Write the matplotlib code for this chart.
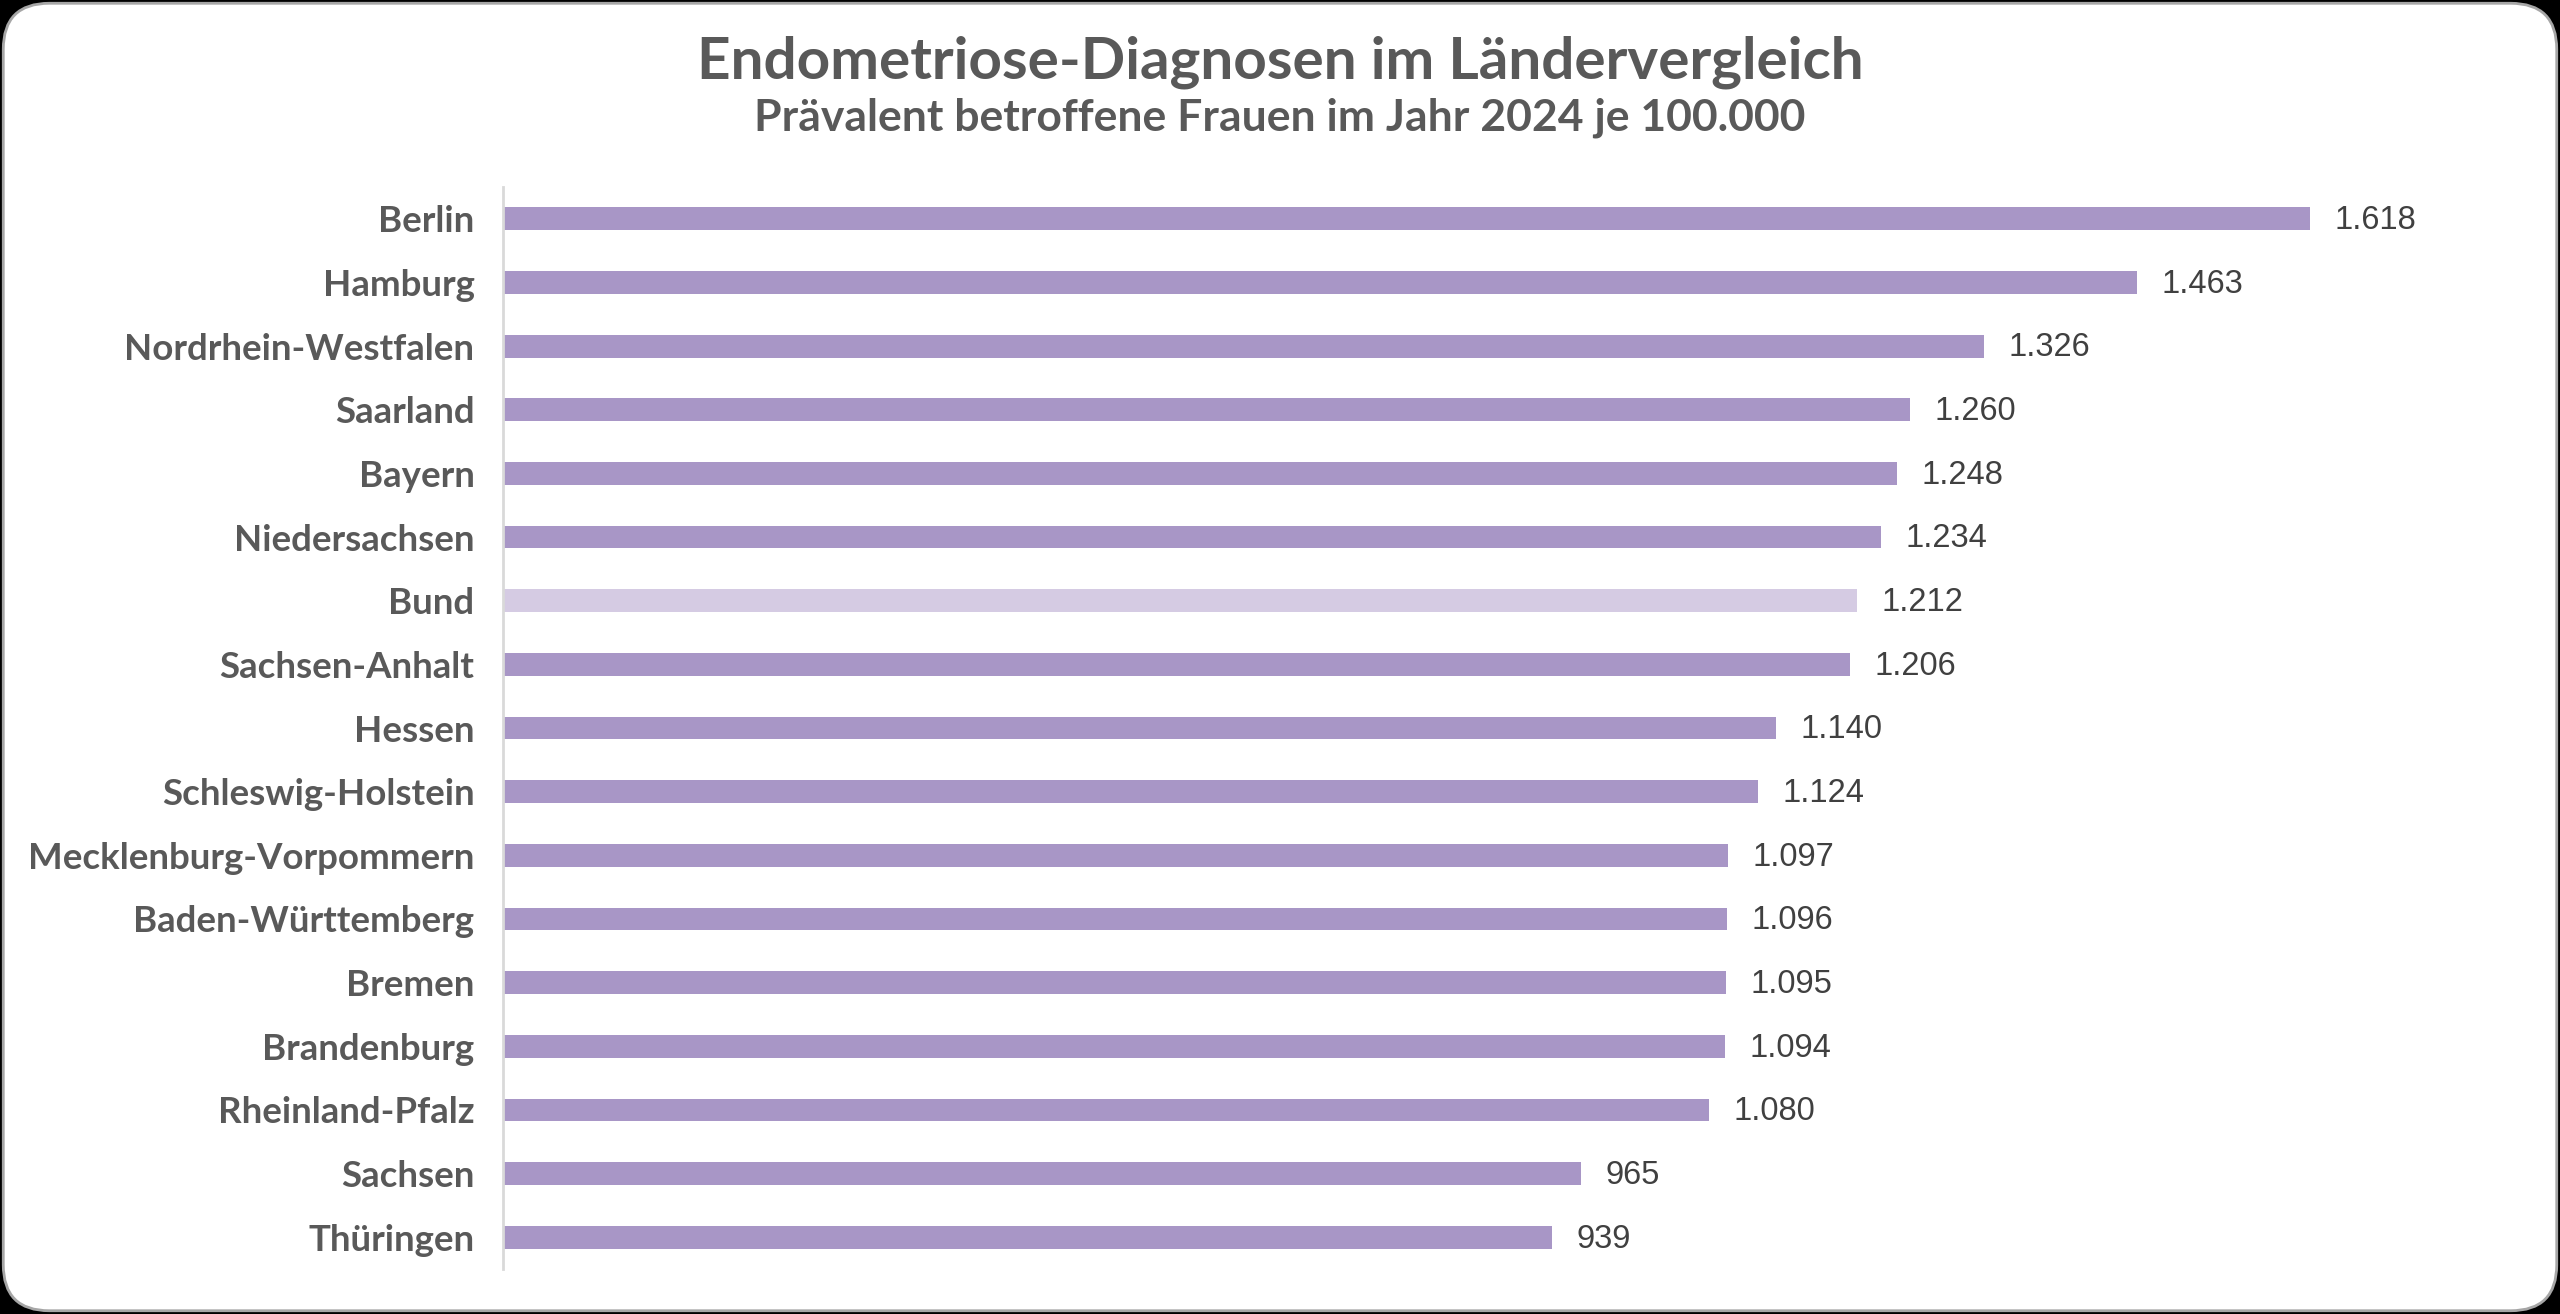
import numpy as np
import matplotlib.pyplot as plt
from matplotlib.patches import FancyBboxPatch

# data (top to bottom)
laender = ["Berlin", "Hamburg", "Nordrhein-Westfalen", "Saarland", "Bayern",
           "Niedersachsen", "Bund", "Sachsen-Anhalt", "Hessen", "Schleswig-Holstein",
           "Mecklenburg-Vorpommern", "Baden-Württemberg", "Bremen", "Brandenburg",
           "Rheinland-Pfalz", "Sachsen", "Thüringen"]
werte = [1618, 1463, 1326, 1260, 1248, 1234, 1212, 1206, 1140, 1124,
         1097, 1096, 1095, 1094, 1080, 965, 939]
labels = ["1.618", "1.463", "1.326", "1.260", "1.248", "1.234", "1.212", "1.206", "1.140",
          "1.124", "1.097", "1.096", "1.095", "1.094", "1.080", "965", "939"]

BAR = "#a896c6"
BUND = "#d5cbe3"
GRAY = "#595959"
W, H = 1568, 805  # layout measured in these units
FONT = ["Lato", "DejaVu Sans"]

fig = plt.figure(figsize=(25.6, 13.14), dpi=100, facecolor="black")

card = FancyBboxPatch((2 / W, 2 / H), 1 - 4 / W, 1 - 4 / H,
                      boxstyle="round,pad=0,rounding_size=0.018",
                      transform=fig.transFigure, facecolor="white",
                      edgecolor="#a6a6a6", linewidth=2, mutation_aspect=W / H,
                      zorder=-10)
fig.patches.append(card)

ax = fig.add_axes([308 / W, 1 - 777.5 / H, (1540 - 308) / W, (777.5 - 114.5) / H])
ax.set_facecolor("none")
ax.set_zorder(5)

y = np.arange(len(laender))
colors = [BUND if l == "Bund" else BAR for l in laender]
ax.barh(y, werte, height=0.36, color=colors)

for yi, v, t in zip(y, werte, labels):
    ax.text(v + 22, yi + 0.03, t, va="center", ha="left", fontsize=23.5,
            color="#404040", family="Liberation Sans")

ax.set_ylim(len(laender) - 0.5, -0.5)
ax.set_xlim(0, 1618 * (1540 - 308) / 1107)
ax.set_yticks(y)
ax.set_yticklabels(laender, fontsize=26.4, fontweight="bold", color=GRAY, family=FONT)
ax.tick_params(axis="y", length=0, pad=20.5)
ax.set_xticks([])
for s in ["top", "right", "bottom"]:
    ax.spines[s].set_visible(False)
ax.spines["left"].set_color("#d9d9d9")
ax.spines["left"].set_linewidth(2)

fig.text(0.5, 1 - 38 / H, "Endometriose-Diagnosen im Ländervergleich", ha="center",
         va="center", fontsize=42, fontweight="bold", color=GRAY, family=FONT)
fig.text(0.5, 1 - 72 / H, "Prävalent betroffene Frauen im Jahr 2024 je 100.000", ha="center",
         va="center", fontsize=32, fontweight="bold", color=GRAY, family=FONT)

fig.savefig("out.png", dpi=100, facecolor=fig.get_facecolor())
